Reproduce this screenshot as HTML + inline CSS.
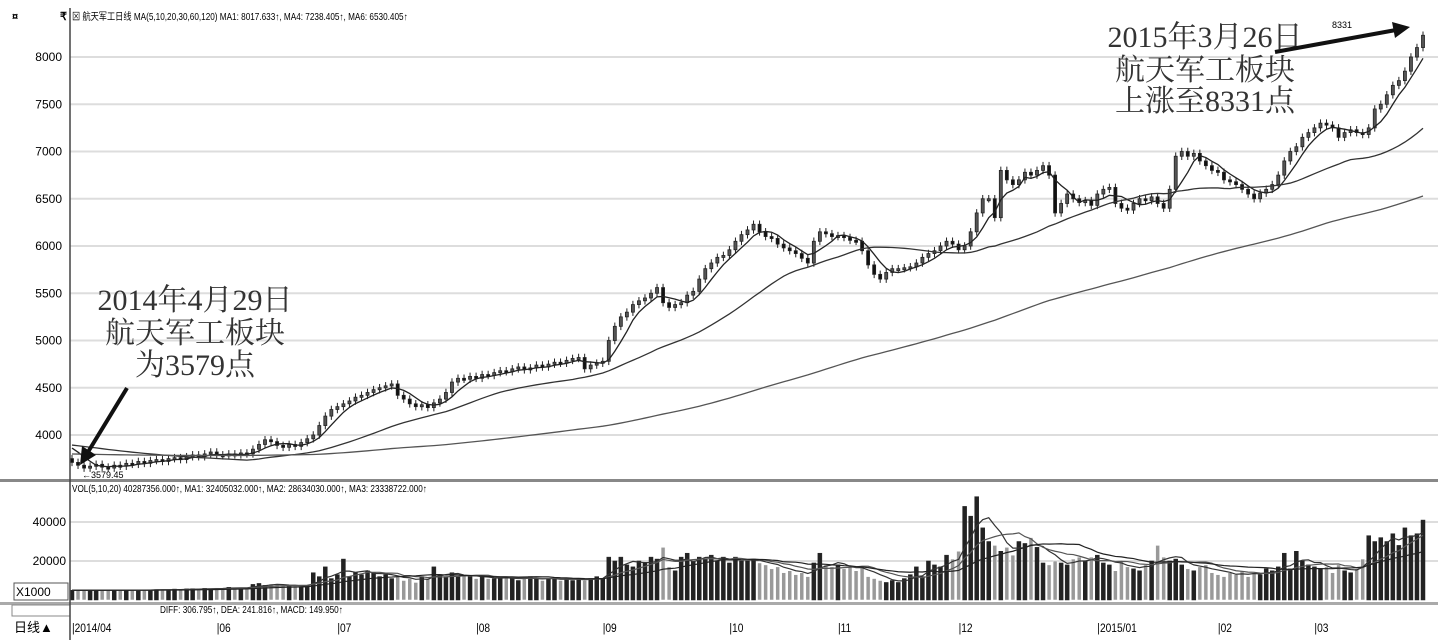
<!DOCTYPE html>
<html><head><meta charset="utf-8"><style>
body{margin:0;background:#fff;width:1438px;height:644px;overflow:hidden}
svg{display:block;font-family:"Liberation Sans","Noto Sans CJK SC",sans-serif}
</style></head><body>
<svg id="chart" width="1438" height="644" viewBox="0 0 1438 644" xmlns="http://www.w3.org/2000/svg">
<g id="grid"></g>
<g id="vgrid"></g>
<g id="candles"></g>
<g id="mas"></g>
<g id="vols"></g>
<g id="axes"></g>
<text x="12" y="20" font-size="11" font-weight="bold">¤</text>
<text x="60" y="20" font-size="11" font-weight="bold">₹</text>
<text x="72" y="20" font-size="10" transform="translate(72 0) scale(0.82 1) translate(-72 0)">⊠ 航天军工日线 MA(5,10,20,30,60,120) MA1: 8017.633↑, MA4: 7238.405↑, MA6: 6530.405↑</text>
<text x="72" y="492" font-size="10" transform="translate(72 0) scale(0.82 1) translate(-72 0)">VOL(5,10,20) 40287356.000↑, MA1: 32405032.000↑, MA2: 28634030.000↑, MA3: 23338722.000↑</text>
<text x="160" y="613" font-size="10" transform="translate(160 0) scale(0.82 1) translate(-160 0)">DIFF: 306.795↑, DEA: 241.816↑, MACD: 149.950↑</text>
<rect x="14" y="583" width="54" height="17" fill="#fff" stroke="#555"/>
<text x="16" y="596" font-size="12">X1000</text>
<text x="14" y="632" font-size="13">日线▲</text>
<g font-family="Liberation Serif,'Noto Serif CJK SC',serif" font-size="30" fill="#333" text-anchor="middle">
<text x="195" y="310">2014年4月29日</text>
<text x="195" y="343">航天军工板块</text>
<text x="195" y="375">为3579点</text>
</g>
<g font-family="Liberation Serif,'Noto Serif CJK SC',serif" font-size="30" fill="#333" text-anchor="middle">
<text x="1205" y="47">2015年3月26日</text>
<text x="1205" y="80">航天军工板块</text>
<text x="1205" y="111">上涨至8331点</text>
</g>
<line x1="127" y1="388" x2="88" y2="452" stroke="#111" stroke-width="4"/>
<polygon points="80,465 82,446 96,455" fill="#111"/>
<line x1="1275" y1="52" x2="1396" y2="30" stroke="#111" stroke-width="4"/>
<polygon points="1410,27 1392,22 1395,38" fill="#111"/>
<text x="1332" y="28" font-size="9">8331</text>
<text x="82" y="478" font-size="9">←3579.45</text>
</svg>
<script>
const closes=[3710,3680,3650,3670,3690,3660,3650,3680,3670,3700,
3690,3720,3700,3730,3740,3720,3750,3760,3740,3770,
3790,3770,3800,3820,3790,3780,3800,3790,3810,3800,
3850,3900,3950,3930,3890,3870,3900,3880,3920,3960,
4000,4100,4200,4270,4300,4330,4360,4400,4420,4450,
4480,4500,4520,4540,4420,4380,4330,4300,4320,4290,
4340,4380,4450,4560,4600,4590,4620,4600,4640,4630,
4660,4680,4670,4700,4720,4690,4710,4740,4720,4750,
4770,4760,4790,4810,4820,4700,4740,4760,4780,5000,
5150,5250,5300,5380,5420,5450,5500,5560,5400,5350,
5380,5400,5480,5520,5650,5760,5820,5880,5900,5960,
6050,6120,6170,6230,6150,6100,6080,6020,5980,5950,
5920,5870,5820,6050,6150,6130,6100,6110,6090,6060,
6050,5950,5800,5700,5650,5720,5760,5760,5770,5780,
5820,5880,5920,5950,6000,6050,6020,5960,6000,6150,
6350,6500,6500,6300,6800,6700,6650,6700,6780,6750,
6800,6850,6750,6350,6450,6550,6500,6460,6480,6430,
6550,6600,6620,6450,6400,6380,6450,6500,6480,6520,
6450,6400,6600,6950,7000,6950,6980,6900,6850,6800,
6780,6700,6680,6650,6600,6550,6500,6560,6600,6650,
6750,6900,7000,7050,7150,7200,7250,7300,7280,7250,
7150,7200,7230,7200,7180,7250,7450,7500,7600,7700,
7750,7850,8000,8100,8230];
const volumes=[5000,5200,4800,5100,5000,4900,5300,5000,5100,4800,
5200,5000,5400,5100,5300,5500,5000,5600,5400,5700,
5800,5600,6000,5700,6200,6000,6500,6300,6100,6400,
8000,8500,7500,8200,7800,7600,7000,7200,6800,7000,
14000,12000,17000,11000,13000,21000,12000,14000,13000,15000,
14000,12000,13000,11000,12000,10000,11000,9000,12000,11000,
17000,13000,12000,14000,12000,13000,12000,11000,12000,11000,
11000,11000,12000,11000,10000,11000,12000,11000,10000,11000,
11000,10000,11000,10000,11000,10000,11000,12000,11000,22000,
20000,22000,18000,17000,20000,19000,22000,21000,27000,17000,
15000,22000,24000,20000,22000,21000,23000,20000,22000,19000,
22000,20000,20000,21000,19000,18000,16000,17000,14000,15000,
13000,14000,12000,19000,24000,18000,17000,18000,16000,17000,
15000,17000,12000,11000,10000,9000,10000,9000,11000,13000,
17000,12000,20000,18000,17000,23000,21000,25000,48000,43000,
53000,37000,30000,28000,25000,27000,23000,30000,29000,32000,
27000,19000,18000,20000,19000,18000,21000,22000,20000,22000,
23000,19000,18000,15000,20000,17000,16000,15000,18000,20000,
28000,22000,20000,21000,18000,16000,15000,17000,18000,14000,
13000,12000,14000,13000,15000,12000,14000,13000,16000,15000,
17000,24000,16000,25000,20000,18000,17000,16000,17000,14000,
18000,15000,14000,16000,21000,33000,30000,32000,30000,34000,
28000,37000,33000,34000,41000];
const priceTicks=[4000,4500,5000,5500,6000,6500,7000,7500,8000];
const volTicks=[20000,40000];
const monthLabels=["2014/04","06","07","08","09","10","11","12","2015/01","02","03"];
const monthIndex=[0,24,44,67,88,109,127,147,170,190,206];
const priorClose=3900;

const NS="http://www.w3.org/2000/svg";
const X0=72,X1=1423;
const xs=i=>X0+i*(X1-X0)/(closes.length-1);
const py=v=>57+(8000-v)*0.0945;
const vy=v=>600-v*(39/20000);
function mk(tag,attrs,parent){const e=document.createElementNS(NS,tag);for(const k in attrs)e.setAttribute(k,attrs[k]);parent.appendChild(e);return e;}
const grid=document.getElementById('grid'),vgrid=document.getElementById('vgrid'),axes=document.getElementById('axes');
priceTicks.forEach(t=>{
  const l=mk('line',{x1:70,x2:1438,y1:py(t),y2:py(t),stroke:'#ddd','stroke-width':2},grid);
  
  
  const tx=mk('text',{x:62,y:py(t)+4,'font-size':12,'text-anchor':'end'},axes);
  tx.textContent=t;
  
  
});
volTicks.forEach(t=>{
  const l=mk('line',{x1:70,x2:1438,y1:vy(t),y2:vy(t),stroke:'#ddd','stroke-width':2},vgrid);
  
  
  const tx=mk('text',{x:66,y:vy(t)+4,'font-size':12,'text-anchor':'end'},axes);
  tx.textContent=t;
  
  
});
const s1=mk('rect',{x:0,y:479,width:1438,height:3,fill:'#888'},axes);


const s2=mk('rect',{x:0,y:602,width:1438,height:3,fill:'#aaa'},axes);


const s3=mk('rect',{x:12,y:605,width:58,height:11,fill:'#fff',stroke:'#888'},axes);


const ax=mk('line',{x1:70,x2:70,y1:8,y2:640,stroke:'#444','stroke-width':1.5},axes);


monthLabels.forEach((m,k)=>{
  const x=xs(monthIndex[k]);
  const tx=mk('text',{x:x,y:632,'font-size':12,transform:`translate(${x} 0) scale(0.85 1) translate(${-x} 0)`},axes);
  tx.textContent='|'+m;
  
  
});
const cg=document.getElementById('candles');
closes.forEach((c,i)=>{
  const o=i===0?priorClose-150:closes[i-1];
  const hi=Math.max(o,c)+40,lo=Math.min(o,c)-40,x=xs(i);
  const w=mk('line',{x1:x,x2:x,y1:py(hi),y2:py(lo),stroke:'#222','stroke-width':1},cg);
  
  
  const up=c>=o;
  const b=mk('rect',{x:x-1.5,y:py(Math.max(o,c)),width:3,height:Math.max(2,Math.abs(py(o)-py(c))),fill:up?'#555':'#111',stroke:'#222','stroke-width':0.8},cg);
  
  
});
function ma(arr,n,seed){return arr.map((_,i)=>{let s=0;for(let k=i-n+1;k<=i;k++)s+=k<0?seed:arr[k];return s/n;});}
const mg=document.getElementById('mas');
[[5,'#222',priorClose],[30,'#333',priorClose],[120,'#555',3800]].forEach(([n,col,seed])=>{
  const m=ma(closes,n,seed);
  const p=mk('polyline',{points:m.map((v,i)=>xs(i)+','+py(v)).join(' '),fill:'none',stroke:col,'stroke-width':1.3},mg);
  
  
});
const vg=document.getElementById('vols');
volumes.forEach((v,i)=>{
  const up=i===0||closes[i]>=closes[i-1],x=xs(i);
  const r=mk('rect',{x:x-2,y:vy(v),width:4,height:600-vy(v),fill:up?'#222':'#999',stroke:up?'#222':'#fff','stroke-width':0.5},vg);
  
  
});
[[5,'#333'],[10,'#555'],[20,'#222']].forEach(([n,col])=>{
  const m=ma(volumes,n,5000);
  const p=mk('polyline',{points:m.map((v,i)=>xs(i)+','+vy(v)).join(' '),fill:'none',stroke:col,'stroke-width':1.2},vg);
  
  
});
</script>
</body></html>
